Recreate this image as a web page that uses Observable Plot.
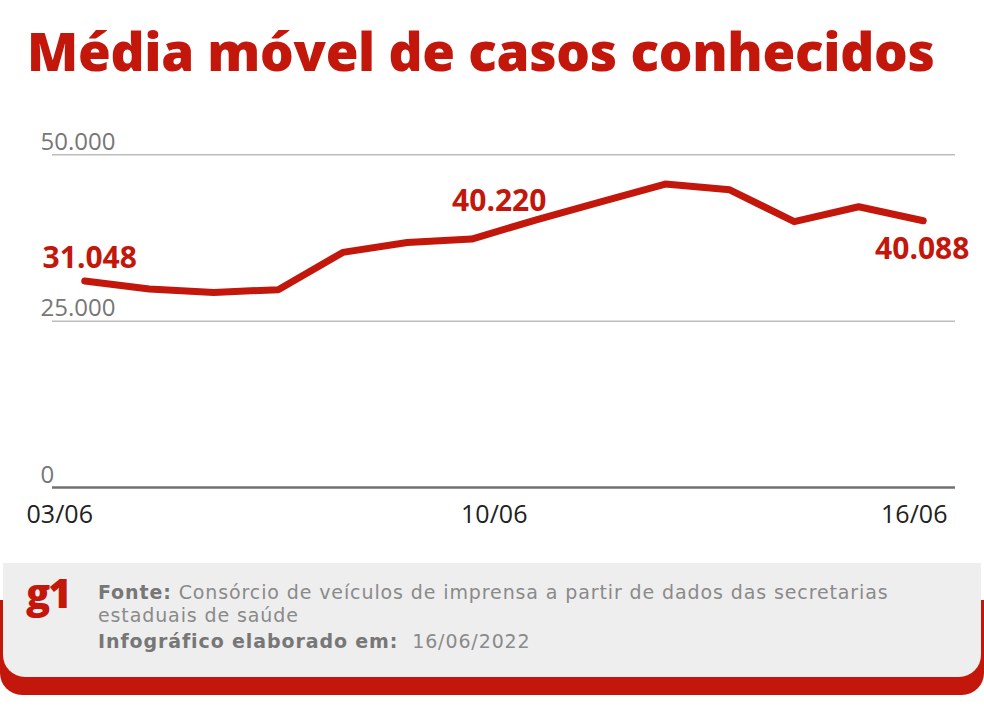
<!DOCTYPE html>
<html><head><meta charset="utf-8">
<script src="https://cdn.jsdelivr.net/npm/d3@7"></script>
<script src="https://cdn.jsdelivr.net/npm/@observablehq/plot@0.6"></script>
<style>
body{margin:0;background:#fff;width:984px;height:712px;position:relative;overflow:hidden;font-family:"Open Sans",sans-serif}
#title{position:absolute;left:27px;top:24px;font-size:53px;line-height:1;font-weight:800;color:#c4170c;white-space:nowrap}
#chart{position:absolute;left:0;top:110px}
#red{position:absolute;left:0;right:0;top:600px;height:95px;background:#c4170c;border-radius:0 0 22px 22px}
#gray{position:absolute;left:3px;right:3px;top:563px;height:114px;background:#eeeeee;border-radius:0 0 22px 22px}
#logo{position:absolute;left:26px;top:573px;font-size:40px;line-height:1;font-weight:800;color:#c4170c;letter-spacing:-2px}
.ft{position:absolute;left:98px;font-family:"DejaVu Sans",sans-serif;font-size:19px;color:#8a8a8a;line-height:1;white-space:nowrap}
.ft b{color:#777;font-weight:700}
#l1{top:583px}#l2{top:606px}#l3{top:632px}
</style></head>
<body>
<div id="title">Média móvel de casos conhecidos</div>
<div id="chart"></div>
<div id="red"></div>
<div id="gray"></div>
<div id="logo">g1</div>
<div class="ft" id="l1"><b>Fonte:</b> Consórcio de veículos de imprensa a partir de dados das secretarias</div>
<div class="ft" id="l2">estaduais de saúde</div>
<div class="ft" id="l3"><b>Infográfico elaborado em:</b>&nbsp; 16/06/2022</div>
<script>
// ---- data ----
const days = ["03/06","04/06","05/06","06/06","07/06","08/06","09/06","10/06","11/06","12/06","13/06","14/06","15/06","16/06"];
const values = [31048, 29830, 29320, 29730, 35330, 36830, 37340, 40220, 42940, 45600, 44740, 39950, 42190, 40088];
const yTicks = [0, 25000, 50000];
const yTickLabels = ["0", "25.000", "50.000"];
const xTickLabels = ["03/06", "10/06", "16/06"];
const labelledDays = ["03/06", "10/06", "16/06"];
const year = "2022";

const red = "#c4170c";
const fmt = d3.formatLocale({decimal:",", thousands:".", grouping:[3], currency:["R$",""]}).format(",d");
const parse = d3.utcParse("%d/%m/%Y");
const data = days.map((d, i) => ({date: parse(d + "/" + year), value: values[i], day: d}));
const lab = labelledDays.map(d => data.find(r => r.day === d));
const pad = 12 * 3600 * 1000;

const chart = Plot.plot({
  width: 984, height: 440,
  marginLeft: 52, marginRight: 29, marginTop: 44.3, marginBottom: 63,
  x: {type: "utc", domain: [new Date(+data[0].date - pad), new Date(+data[data.length-1].date + pad)], axis: null},
  y: {domain: [0, 50000], axis: null},
  style: {fontFamily: "Open Sans", background: "transparent", overflow: "visible"},
  marks: [
    Plot.ruleY(yTicks.filter(v => v > 0), {stroke: "#bdbdbd", strokeWidth: 1.5}),
    Plot.ruleY(yTicks.filter(v => v === 0), {stroke: "#707070", strokeWidth: 2.5}),
    Plot.text(yTicks, {y: d => d, text: (d, i) => yTickLabels[i], frameAnchor: "left", dx: -12, dy: -5,
      textAnchor: "start", lineAnchor: "bottom", fill: "#777", fontSize: 24}),
    Plot.line(data, {x: "date", y: "value", stroke: red, strokeWidth: 7, strokeLinejoin: "round", strokeLinecap: "round"}),
    Plot.text([lab[0]], {x: "date", y: "value", text: d => fmt(d.value), dx: 5, dy: -13, lineAnchor: "bottom",
      fill: red, fontWeight: 700, fontSize: 30}),
    Plot.text([lab[1]], {x: "date", y: "value", text: d => fmt(d.value), dx: -37, dy: -9, lineAnchor: "bottom",
      fill: red, fontWeight: 700, fontSize: 30}),
    Plot.text([lab[2]], {x: "date", y: "value", text: d => fmt(d.value), dx: -1, dy: 38, lineAnchor: "bottom",
      fill: red, fontWeight: 700, fontSize: 30}),
    Plot.text([xTickLabels[0]], {x: d => parse(d + "/" + year), text: d => d, frameAnchor: "bottom", dx: -25, dy: 35,
      lineAnchor: "bottom", fill: "#222", fontSize: 25}),
    Plot.text([xTickLabels[1]], {x: d => parse(d + "/" + year), text: d => d, frameAnchor: "bottom", dx: -42, dy: 35,
      lineAnchor: "bottom", fill: "#222", fontSize: 25}),
    Plot.text([xTickLabels[2]], {x: d => parse(d + "/" + year), text: d => d, frameAnchor: "bottom", dx: -9, dy: 35,
      lineAnchor: "bottom", fill: "#222", fontSize: 25})
  ]
});
document.getElementById("chart").appendChild(chart);

// fit title and footer line to the reference widths
const t = document.getElementById("title");
const w = t.getBoundingClientRect().width;
t.style.letterSpacing = ((908 - w) / 30).toFixed(2) + "px";
const l1 = document.getElementById("l1");
const w1 = l1.getBoundingClientRect().width;
const ls = ((790 - w1) / 73).toFixed(2) + "px";
document.querySelectorAll(".ft").forEach(e => e.style.letterSpacing = ls);
</script>
</body></html>
